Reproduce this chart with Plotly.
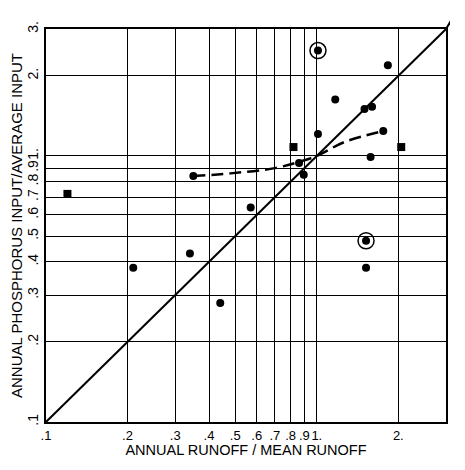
import math
import plotly.graph_objects as go

# data points (dots)
dot_x = [0.21, 0.34, 0.44, 0.35, 0.57, 0.86, 0.895, 1.01, 1.01, 1.17, 1.50, 1.60, 1.58, 1.76, 1.83, 1.52, 1.52]
dot_y = [0.38, 0.43, 0.28, 0.84, 0.64, 0.94, 0.85, 1.21, 2.49, 1.63, 1.50, 1.53, 0.99, 1.24, 2.19, 0.48, 0.38]
# squares
sq_x = [0.12, 0.82, 2.05]
sq_y = [0.72, 1.08, 1.08]
# circled points
circ_x = [1.01, 1.52]
circ_y = [2.49, 0.48]
# dashed trend curve
trend_x = [0.35, 0.48, 0.70, 0.86, 1.0, 1.27, 1.76]
trend_y = [0.84, 0.86, 0.90, 0.95, 1.0, 1.13, 1.24]
# 1:1 line
diag = [0.1, 3.0]

tick_vals = [0.1, 0.2, 0.3, 0.4, 0.5, 0.6, 0.7, 0.8, 0.9, 1, 2, 3]
x_tick_text = [".1", ".2", ".3", ".4", ".5", ".6", ".7", ".8", ".9", "1.", "2.", "3."]
y_tick_text = [".1", ".2", ".3", ".4", ".5", ".6", ".7", ".8", ".9", "1.", "2.", "3."]

FONT = "Liberation Sans"
LOG_RANGE = [math.log10(0.1) - 1e-6, math.log10(3.0) + 1e-6]

fig = go.Figure()
fig.add_trace(go.Scatter(x=diag, y=diag, mode="lines",
                         line=dict(color="black", width=2), hoverinfo="skip"))
fig.add_trace(go.Scatter(x=trend_x, y=trend_y, mode="lines",
                         line=dict(color="black", width=2.5, dash="12px,6px", shape="spline"),
                         hoverinfo="skip"))
fig.add_trace(go.Scatter(x=dot_x, y=dot_y, mode="markers",
                         marker=dict(color="black", size=8, symbol="circle")))
fig.add_trace(go.Scatter(x=sq_x, y=sq_y, mode="markers",
                         marker=dict(color="black", size=8, symbol="square")))
fig.add_trace(go.Scatter(x=circ_x, y=circ_y, mode="markers",
                         marker=dict(color="black", size=16, symbol="circle-open",
                                     line=dict(color="black", width=1.5))))

# the 1:1 line continues slightly past the top-right corner of the frame
fig.add_shape(type="line", xref="paper", yref="paper", x0=1, y0=1, x1=1.012, y1=1.02,
              line=dict(color="black", width=2))

axis_common = dict(
    type="log", automargin=False,
    showgrid=True, gridcolor="black", gridwidth=1.3,
    showline=True, linecolor="black", linewidth=2, mirror=True,
    zeroline=False, ticks="", tickvals=tick_vals,
)

fig.update_layout(
    width=442, height=450,
    margin=dict(l=38, r=4, t=21, b=36),
    paper_bgcolor="white", plot_bgcolor="white",
    showlegend=False,
    font=dict(family=FONT, color="black"),
    xaxis=dict(axis_common, range=LOG_RANGE, ticktext=x_tick_text, tickangle=0,
               tickfont=dict(family=FONT, size=13, color="black"),
               title=dict(text="ANNUAL RUNOFF / MEAN RUNOFF",
                          font=dict(family=FONT, size=14.5, color="black"), standoff=4)),
    yaxis=dict(axis_common, range=LOG_RANGE, ticktext=y_tick_text, tickangle=-90,
               tickfont=dict(family=FONT, size=14, color="black"),
               title=dict(text="ANNUAL PHOSPHORUS INPUT/AVERAGE INPUT",
                          font=dict(family=FONT, size=15, color="black"), standoff=2)),
)

fig.write_html("out.html")
